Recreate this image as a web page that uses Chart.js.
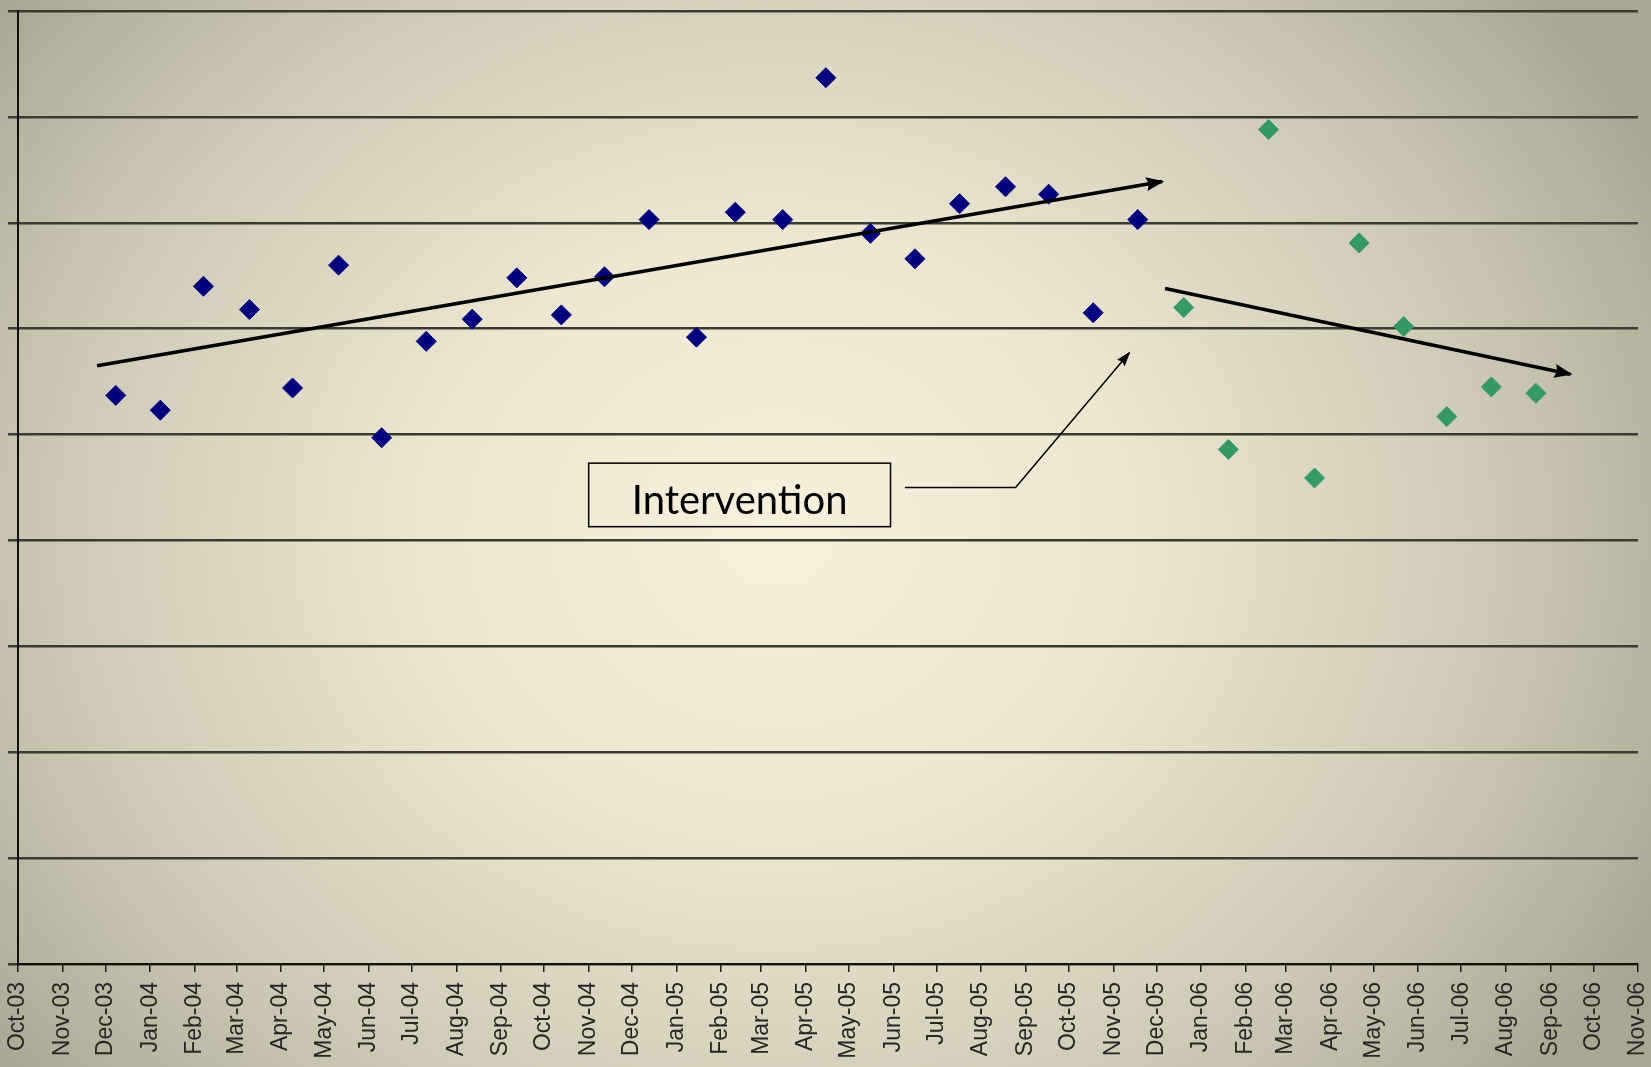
<!DOCTYPE html>
<html>
<head>
<meta charset="utf-8">
<script src="https://cdn.jsdelivr.net/npm/chart.js@4.4.1/dist/chart.umd.min.js"></script>
<style>
  html, body { margin: 0; padding: 0; overflow: hidden; }
  body {
    width: 1651px; height: 1067px;
    background: radial-gradient(ellipse 60% 80% at 47% 50%, #f7f1dc 0%, #ede7d0 35%, #cfcab5 72%, #a9a794 100%);
  }
  canvas { display: block; }
</style>
</head>
<body>
<canvas id="chart" width="1651" height="1067"></canvas>
<script>
// month tick labels along the date axis
const monthLabels = [
  'Oct-03', 'Nov-03', 'Dec-03', 'Jan-04', 'Feb-04', 'Mar-04', 'Apr-04', 'May-04',
  'Jun-04', 'Jul-04', 'Aug-04', 'Sep-04', 'Oct-04', 'Nov-04', 'Dec-04', 'Jan-05',
  'Feb-05', 'Mar-05', 'Apr-05', 'May-05', 'Jun-05', 'Jul-05', 'Aug-05', 'Sep-05',
  'Oct-05', 'Nov-05', 'Dec-05', 'Jan-06', 'Feb-06', 'Mar-06', 'Apr-06', 'May-06',
  'Jun-06', 'Jul-06', 'Aug-06', 'Sep-06', 'Oct-06', 'Nov-06'
];

// before intervention (blue)
const baselineDates = [
  '2003-12-08', '2004-01-08', '2004-02-07', '2004-03-10', '2004-04-09', '2004-05-11',
  '2004-06-10', '2004-07-11', '2004-08-12', '2004-09-12', '2004-10-13', '2004-11-12',
  '2004-12-13', '2005-01-15', '2005-02-11', '2005-03-16', '2005-04-15', '2005-05-16',
  '2005-06-16', '2005-07-17', '2005-08-18', '2005-09-17', '2005-10-18', '2005-11-18'
];
const baselineValues = [
  53.7, 52.3, 64.0, 61.8, 54.4, 66.0, 49.7, 58.8, 60.9, 64.8, 61.3, 64.9,
  70.3, 59.2, 71.0, 70.3, 83.7, 69.0, 66.6, 71.8, 73.4, 72.7, 61.5, 70.3
];

// after intervention (green)
const postDates = [
  '2005-12-20', '2006-01-20', '2006-02-17', '2006-03-21', '2006-04-21',
  '2006-05-22', '2006-06-21', '2006-07-22', '2006-08-22'
];
const postValues = [62.0, 48.6, 78.8, 45.9, 68.1, 60.2, 51.7, 54.5, 53.9];

// trend arrows
const trendBeforeDates = ['2003-11-25', '2005-12-05'];
const trendBeforeValues = [56.5, 73.9];
const trendAfterDates = ['2005-12-07', '2006-09-15'];
const trendAfterValues = [63.8, 55.7];

const MONTHS = ['Jan', 'Feb', 'Mar', 'Apr', 'May', 'Jun', 'Jul', 'Aug', 'Sep', 'Oct', 'Nov', 'Dec'];
const ORIGIN = Date.UTC(2003, 9, 1);
const dayOf = s => (Date.parse(s) - ORIGIN) / 86400000;
const labelDay = l => {
  const [m, y] = l.split('-');
  return (Date.UTC(2000 + Number(y), MONTHS.indexOf(m), 1) - ORIGIN) / 86400000;
};
const tickDays = monthLabels.map(labelDay);
const labelByDay = {};
monthLabels.forEach((l, i) => { labelByDay[tickDays[i]] = l; });

const toPoints = (dates, values) => dates.map((d, i) => ({ x: dayOf(d), y: values[i] }));

// callout box, placed in data units
const callout = {
  text: 'Intervention',
  left: '2004-11-01', right: '2005-05-30', top: 47.3, bottom: 41.3,
  path: [['2005-06-09', 45.0], ['2005-08-25', 45.0], ['2005-11-12', 57.7]]
};

function arrowHead(ctx, x0, y0, x1, y1, len, half, color) {
  const a = Math.atan2(y1 - y0, x1 - x0);
  ctx.save();
  ctx.fillStyle = color;
  ctx.translate(x1, y1);
  ctx.rotate(a);
  ctx.beginPath();
  ctx.moveTo(2, 0);
  ctx.lineTo(-len, -half);
  ctx.lineTo(-len * 0.85, 0);
  ctx.lineTo(-len, half);
  ctx.closePath();
  ctx.fill();
  ctx.restore();
}

const arrowPlugin = {
  id: 'arrows',
  afterDatasetsDraw(chart) {
    const ctx = chart.ctx;
    chart.data.datasets.forEach((ds, i) => {
      if (!ds.arrowHead) return;
      const pts = chart.getDatasetMeta(i).data;
      const a = pts[pts.length - 2], b = pts[pts.length - 1];
      arrowHead(ctx, a.x, a.y, b.x, b.y, 16, 7, ds.borderColor);
    });
  }
};

const calloutPlugin = {
  id: 'callout',
  afterDraw(chart) {
    const { ctx, scales: { x, y } } = chart;
    const l = x.getPixelForValue(dayOf(callout.left));
    const r = x.getPixelForValue(dayOf(callout.right));
    const t = y.getPixelForValue(callout.top);
    const b = y.getPixelForValue(callout.bottom);
    ctx.save();
    ctx.strokeStyle = '#000';
    ctx.lineWidth = 1.5;
    ctx.strokeRect(l, t, r - l, b - t);
    ctx.fillStyle = '#000';
    ctx.font = '40px Lato';
    ctx.textAlign = 'center';
    ctx.textBaseline = 'middle';
    ctx.fillText(callout.text, (l + r) / 2, (t + b) / 2 + 6);

    const pts = callout.path.map(([d, v]) => [x.getPixelForValue(dayOf(d)), y.getPixelForValue(v)]);
    ctx.beginPath();
    ctx.moveTo(pts[0][0], pts[0][1]);
    pts.slice(1).forEach(p => ctx.lineTo(p[0], p[1]));
    ctx.stroke();
    const n = pts.length;
    arrowHead(ctx, pts[n - 2][0], pts[n - 2][1], pts[n - 1][0], pts[n - 1][1], 13, 5, '#000');
    ctx.restore();
  }
};

new Chart(document.getElementById('chart'), {
  type: 'scatter',
  data: {
    datasets: [
      {
        data: toPoints(trendBeforeDates, trendBeforeValues),
        showLine: true, borderColor: '#000', borderWidth: 3.5, pointRadius: 0, arrowHead: true
      },
      {
        data: toPoints(trendAfterDates, trendAfterValues),
        showLine: true, borderColor: '#000', borderWidth: 3.5, pointRadius: 0, arrowHead: true
      },
      {
        data: toPoints(baselineDates, baselineValues),
        pointStyle: 'rectRot', pointRadius: 10,
        backgroundColor: '#000080', borderColor: '#000080', borderWidth: 1
      },
      {
        data: toPoints(postDates, postValues),
        pointStyle: 'rectRot', pointRadius: 10,
        backgroundColor: '#339966', borderColor: '#339966', borderWidth: 1
      }
    ]
  },
  options: {
    responsive: false,
    animation: false,
    layout: { padding: { left: 8, right: 13, top: 10, bottom: 0 } },
    plugins: { legend: { display: false }, tooltip: { enabled: false } },
    scales: {
      x: {
        type: 'linear',
        min: 0,
        max: dayOf('2006-11-01'),
        afterBuildTicks: s => { s.ticks = tickDays.map(v => ({ value: v })); },
        afterFit: s => { s.height = 103; s.paddingLeft = 0; s.paddingRight = 0; },
        grid: { drawOnChartArea: false, drawTicks: true, tickLength: 8, color: '#1c1c1c', lineWidth: 1.5 },
        border: { color: '#111', width: 2 },
        ticks: {
          autoSkip: false, minRotation: 90, maxRotation: 90, padding: 10,
          color: '#262626', font: { family: 'Liberation Sans', size: 23 },
          callback: v => labelByDay[v]
        }
      },
      y: {
        min: 0,
        max: 90,
        afterFit: s => { s.width = 10; },
        ticks: { display: false, stepSize: 10 },
        grid: { color: '#3a3a34', lineWidth: 2.5, tickLength: 10, drawTicks: true },
        border: { color: '#111', width: 2 }
      }
    }
  },
  plugins: [arrowPlugin, calloutPlugin]
});
</script>
</body>
</html>
